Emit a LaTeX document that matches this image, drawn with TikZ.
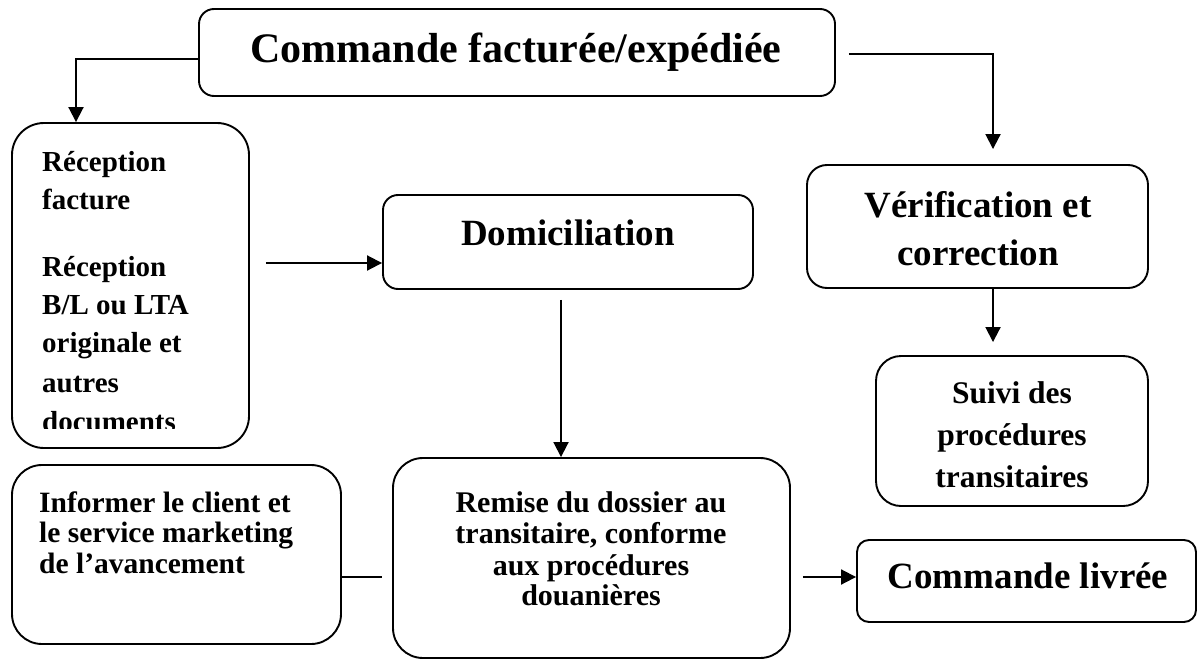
\documentclass[tikz,border=0pt]{standalone}
\usepackage{fontspec}
\setmainfont{Liberation Serif}
\usetikzlibrary{arrows.meta,calc}
\begin{document}
\begin{tikzpicture}[x=1pt,y=-1pt,
  box/.style={draw, line width=1.9pt, rounded corners=#1, inner sep=0pt},
  txt/.style={inner sep=0pt, anchor=base, font=\bfseries\fontsize{#1}{#1}\selectfont},
  ltxt/.style={inner sep=0pt, anchor=base west, font=\bfseries\fontsize{#1}{#1}\selectfont},
  link/.style={draw, line width=1.9pt},
  arr/.style={link, -{Triangle[length=15pt,width=15pt]}}]
\fill[white] (0,0) rectangle (1198,661);
\useasboundingbox (0,0) rectangle (1198,661);

% boxes
\node[box=15pt, minimum width=636pt, minimum height=87pt]  (top)    at (517,52.5)   {};
\node[box=32pt, minimum width=237pt, minimum height=325pt] (left)   at (130.5,285.5) {};
\node[box=15pt, minimum width=370pt, minimum height=94pt]  (domic)  at (568,242)    {};
\node[box=20pt, minimum width=341pt, minimum height=123pt] (verif)  at (977.5,226.5) {};
\node[box=25pt, minimum width=272pt, minimum height=150pt] (suivi)  at (1012,431)   {};
\node[box=30pt, minimum width=329pt, minimum height=179pt] (inform) at (176.5,554.5) {};
\node[box=30pt, minimum width=397pt, minimum height=200pt] (remise) at (591.5,558)  {};
\node[box=12pt, minimum width=339pt, minimum height=82pt]  (livree) at (1026.5,581) {};

% labels
\node[txt=42] (toptext) at (516,63) {Commande facturée/expédiée};
\node[txt=37] (domtext) at (568,245) {Domiciliation};
\node[txt=37] (ver1) at (978,217) {Vérification et};
\node[txt=37] (ver2) at (978,265) {correction};
\node[txt=31.5] (sui1) at (1012,403) {Suivi des};
\node[txt=31.5] (sui2) at (1012,445) {procédures};
\node[txt=31.5] (sui3) at (1012,487) {transitaires};
\node[txt=37] (livtext) at (1028,588) {Commande livrée};
\node[txt=30] (rem1) at (591,512) {Remise du dossier au};
\node[txt=30] (rem2) at (591,543) {transitaire, conforme};
\node[txt=30] (rem3) at (591,575) {aux procédures};
\node[txt=30] (rem4) at (591,605) {douanières};
\node[ltxt=29.5] (inf1) at (39,512) {Informer le client et};
\node[ltxt=29.5] (inf2) at (39,542) {le service marketing};
\node[ltxt=29.5] (inf3) at (39,573) {de l’avancement};
\node[ltxt=29] (rec1) at (42,171) {Réception};
\node[ltxt=29] (rec2) at (42,209) {facture};
\node[ltxt=29] (rec3) at (42,276) {Réception};
\node[ltxt=29] (rec4) at (42,314) {B/L ou LTA};
\node[ltxt=29] (rec5) at (42,352) {originale et};
\node[ltxt=29] (rec6) at (42,392) {autres};
\begin{scope}
  \clip (12,123) rectangle (249,428);
  \node[ltxt=29] (rec7) at (42,431) {documents};
\end{scope}

% connectors
\draw[arr] ([yshift=-6.5pt]top.west) -| ([xshift=-54.5pt]left.north);
\draw[arr, shorten <=13pt, shorten >=15pt] ([yshift=-1.5pt]top.east) -| ([xshift=15.5pt]verif.north);
\draw[arr, shorten <=16pt] ($(left.east)+(0,-22.5)$) -- ($(domic.west)+(0,21)$);
\draw[arr, shorten <=10pt] ($(domic.south)+(-7,0)$) -- ($(remise.north)+(-30.5,0)$);
\draw[arr, shorten >=13pt] ($(verif.south)+(15.5,0)$) -- ($(suivi.north)+(-19,0)$);
\draw[link, shorten >=10pt] ($(inform.east)+(0,22.5)$) -- ($(remise.west)+(0,19)$);
\draw[arr, shorten <=12pt] ($(remise.east)+(0,19)$) -- ($(livree.west)+(0,-4)$);
\end{tikzpicture}
\end{document}
